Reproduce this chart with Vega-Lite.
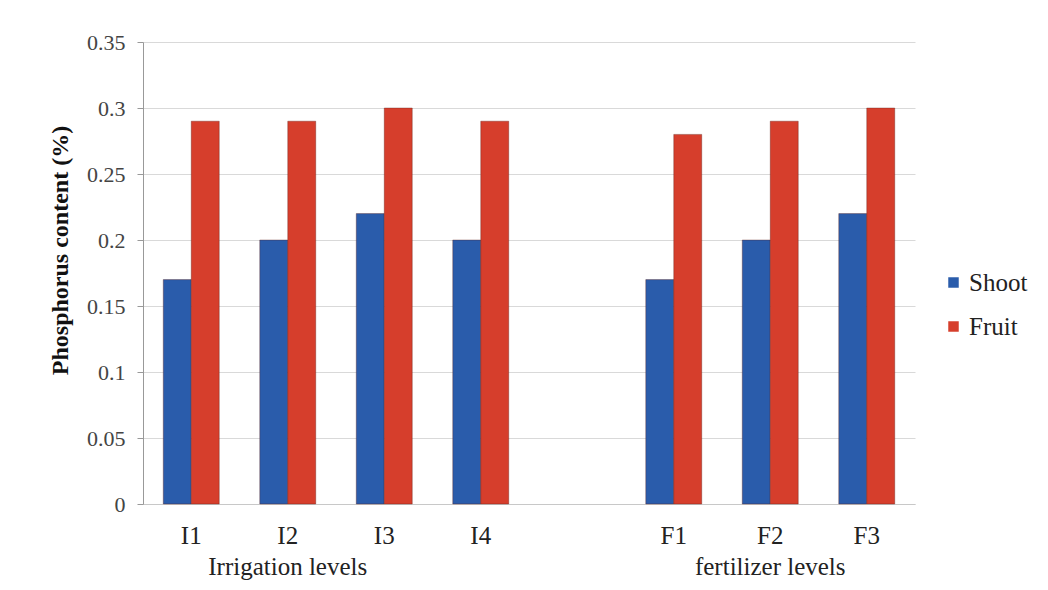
{
  "$schema": "https://vega.github.io/schema/vega-lite/v6.json",
  "width": 772,
  "height": 462,
  "autosize": "none",
  "padding": {"left": 143, "top": 42, "right": 133, "bottom": 86},
  "background": "white",
  "data": {"values": [
    {"level": "I1", "part": "Shoot", "value": 0.17},
    {"level": "I1", "part": "Fruit", "value": 0.29},
    {"level": "I2", "part": "Shoot", "value": 0.20},
    {"level": "I2", "part": "Fruit", "value": 0.29},
    {"level": "I3", "part": "Shoot", "value": 0.22},
    {"level": "I3", "part": "Fruit", "value": 0.30},
    {"level": "I4", "part": "Shoot", "value": 0.20},
    {"level": "I4", "part": "Fruit", "value": 0.29},
    {"level": "F1", "part": "Shoot", "value": 0.17},
    {"level": "F1", "part": "Fruit", "value": 0.28},
    {"level": "F2", "part": "Shoot", "value": 0.20},
    {"level": "F2", "part": "Fruit", "value": 0.29},
    {"level": "F3", "part": "Shoot", "value": 0.22},
    {"level": "F3", "part": "Fruit", "value": 0.30}
  ]},
  "mark": {"type": "bar", "stroke": "#5a1a10", "strokeWidth": 0.6, "strokeOpacity": 0.6},
  "encoding": {
    "x": {
      "field": "level", "type": "nominal",
      "scale": {"domain": ["I1", "I2", "I3", "I4", " ", "F1", "F2", "F3"], "paddingInner": 0.42, "paddingOuter": 0.21},
      "axis": {
        "title": null, "labelAngle": 0, "ticks": false,
        "labelExpr": "datum.value == 'I2' ? ['I2', 'Irrigation levels'] : datum.value == 'F2' ? ['F2', 'fertilizer levels'] : datum.value",
        "labelFont": "Liberation Serif", "labelFontSize": 25, "labelColor": "#222",
        "labelLineHeight": 31, "labelPadding": 19,
        "domainColor": "#c8c8c8", "domainWidth": 1
      }
    },
    "xOffset": {"field": "part", "type": "nominal", "scale": {"domain": ["Shoot", "Fruit"], "paddingInner": 0}},
    "y": {
      "field": "value", "type": "quantitative",
      "scale": {"domain": [0, 0.35], "nice": false},
      "axis": {
        "title": "Phosphorus content (%)", "values": [0, 0.05, 0.1, 0.15, 0.2, 0.25, 0.3, 0.35],
        "labelExpr": "datum.value == 0 ? '0' : format(datum.value, '.2~f')",
        "labelFont": "Liberation Serif", "labelFontSize": 22, "labelColor": "#444", "labelPadding": 12,
        "titleFont": "Liberation Serif", "titleFontSize": 24, "titleFontWeight": "bold", "titleColor": "#111",
        "titlePadding": 14, "titleY": 208,
        "tickSize": 6, "tickColor": "#999", "domainColor": "#999",
        "gridColor": "#d9d9d9", "grid": true
      }
    },
    "color": {
      "field": "part", "type": "nominal",
      "scale": {"domain": ["Shoot", "Fruit"], "range": ["#2a5cab", "#d63e2c"]},
      "legend": {
        "title": null, "orient": "none", "legendX": 798, "legendY": 228,
        "symbolType": "square", "symbolSize": 110, "symbolStrokeWidth": 0,
        "labelFont": "Liberation Serif", "labelFontSize": 25, "labelColor": "#222",
        "rowPadding": 18, "labelOffset": 3
      }
    }
  },
  "config": {
    "font": "Liberation Serif",
    "view": {"stroke": null},
    "axis": {"labelFont": "Liberation Serif", "titleFont": "Liberation Serif"},
    "legend": {"labelFont": "Liberation Serif"}
  }
}
